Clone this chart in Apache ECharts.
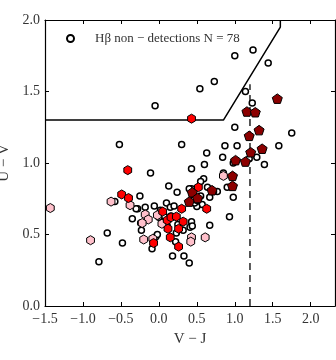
<!DOCTYPE html>
<html>
<head>
<meta charset="utf-8">
<script src="https://cdn.jsdelivr.net/npm/echarts@6/dist/echarts.min.js"></script>
<style>
html,body{margin:0;padding:0;background:#fff;}
#c{width:336px;height:360px;}
</style>
</head>
<body>
<div id="c"></div>
<script>
// ---- data ----
const xTicks = [-1.5, -1.0, -0.5, 0.0, 0.5, 1.0, 1.5, 2.0];
const yTicks = [0.0, 0.5, 1.0, 1.5, 2.0];
const legendLabel = "Hβ non − detections N = 78";

// H-beta non-detections (open circles): [V-J, U-V]
const nonDetections = [
  [1.00,1.75],[1.24,1.79],[1.44,1.70],[0.73,1.57],[0.54,1.52],[-0.05,1.40],
  [1.14,1.50],[1.23,1.42],[1.00,1.25],[1.75,1.21],[-0.52,1.13],[0.30,1.13],
  [0.87,1.12],[1.03,1.12],[1.58,1.12],[0.84,1.04],[1.29,1.04],[1.19,1.03],
  [1.39,0.99],[0.63,1.07],[0.60,0.99],[0.43,0.96],[-0.11,0.93],[0.85,0.93],
  [0.98,1.00],[0.59,0.89],[0.55,0.87],[0.64,0.83],[0.77,0.80],[0.90,0.83],
  [0.98,0.76],[0.93,0.625],[0.67,0.76],[0.67,0.565],[0.43,0.59],[0.41,0.55],
  [0.57,0.71],[0.50,0.695],[0.33,0.35],[0.40,0.30],[0.43,0.82],[0.24,0.795],
  [0.13,0.84],[-0.25,0.77],[-0.58,0.73],[-0.28,0.68],[-0.18,0.69],[-0.06,0.70],
  [-0.35,0.61],[-0.23,0.53],[-0.09,0.40],[-0.04,0.485],[-0.48,0.44],[0.18,0.35],
  [-0.68,0.51],[-0.79,0.31],[0.47,0.72],[0.45,0.78],[0.10,0.72],[0.15,0.69],
  [0.20,0.70],[0.02,0.67],[0.07,0.63],[0.16,0.63],[0.25,0.57],[0.22,0.45],
  [0.23,0.51],[-0.30,0.68],[-0.24,0.58],[0.00,0.62],[0.50,0.74],[0.44,0.56],
  [-0.02,0.50],[0.32,0.53],[0.11,0.56],[0.40,0.82],[0.55,0.77],[0.72,0.80]
];
// red hexagons
const redPoints = [
  [0.43,1.31],[-0.41,0.95],[-0.49,0.78],[-0.40,0.755],[0.52,0.83],[0.63,0.68],
  [0.30,0.68],[0.05,0.66],[0.11,0.60],[0.16,0.62],[0.23,0.625],[0.32,0.59],
  [0.12,0.54],[0.26,0.54],[0.15,0.48],[0.26,0.415],[-0.07,0.44]
];
// dark red pentagons
const darkRedPoints = [
  [1.56,1.45],[1.16,1.36],[1.27,1.355],[1.32,1.23],[1.19,1.19],[1.36,1.10],
  [1.21,1.075],[1.01,1.02],[1.14,1.01],[0.97,0.91],[0.97,0.84],[0.70,0.81],
  [0.44,0.795],[0.40,0.73],[0.51,0.755]
];
// pink hexagons
const pinkPoints = [
  [-1.43,0.685],[-0.90,0.46],[-0.63,0.73],[-0.38,0.705],[-0.18,0.64],[-0.14,0.605],
  [-0.22,0.58],[-0.20,0.465],[-0.08,0.47],[-0.02,0.635],[0.04,0.575],[0.43,0.48],
  [0.42,0.45],[0.61,0.48],[0.85,0.91]
];
// UVJ quiescent boundary
const boundaryX = [-1.5, 0.85, 1.6, 1.6];
const boundaryY = [1.3, 1.3, 1.95, 2.0];
// dashed V-J = 1.2 line
const dashX = [1.2, 1.2];
const dashY = [0.0, 1.55];

// ---- chart ----
const hexPath = 'path://M0,-1 L0.866,-0.5 L0.866,0.5 L0,1 L-0.866,0.5 L-0.866,-0.5 Z';
const pentPath = 'path://M0,-1 L0.951,-0.309 L0.588,0.809 L-0.588,0.809 L-0.951,-0.309 Z';
const FONT = 'Liberation Serif';
const fmt = v => (v < 0 ? '\u2212' : '') + Math.abs(v).toFixed(1);
const zip = (a, b) => a.map((v, i) => [v, b[i]]);

const chart = echarts.init(document.getElementById('c'), null, {renderer: 'canvas'});
const axisCommon = {
  axisLine: {show: true, onZero: false, lineStyle: {color: '#000', width: 1.2}},
  axisTick: {show: true, inside: true, length: 4, lineStyle: {color: '#000', width: 1}},
  splitLine: {show: false},
};
chart.setOption({
  animation: false,
  backgroundColor: '#fff',
  grid: {left: 45, right: 1, top: 20, bottom: 54, containLabel: false, outerBoundsMode: 'none'},
  legend: {
    data: [legendLabel],
    left: 61, top: 27,
    itemWidth: 7, itemHeight: 7,
    textStyle: {fontFamily: FONT, fontSize: 13, color: '#333', padding: [0, 0, 0, 16]}
  },
  xAxis: [
    Object.assign({
      type: 'value', min: -1.5, max: 2.32, interval: 0.5, position: 'bottom',
      name: 'V − J', nameLocation: 'middle', nameGap: 26,
      nameTextStyle: {fontFamily: FONT, fontSize: 15, color: '#333'},
      axisLabel: {fontFamily: FONT, fontSize: 14, color: '#333', margin: 6,
        formatter: v => xTicks.some(t => Math.abs(t - v) < 1e-6) ? fmt(v) : '',
        showMaxLabel: false}
    }, axisCommon),
    Object.assign({
      type: 'value', min: -1.5, max: 2.32, interval: 0.5, position: 'top',
      axisLabel: {show: false}
    }, axisCommon)
  ],
  yAxis: [
    Object.assign({
      type: 'value', min: 0, max: 2.0, interval: 0.5, position: 'left',
      name: 'U − V', nameLocation: 'middle', nameGap: 25, nameRotate: 90,
      nameTextStyle: {fontFamily: FONT, fontSize: 15, color: '#333'},
      axisLabel: {fontFamily: FONT, fontSize: 14, color: '#333', margin: 5,
        formatter: v => yTicks.some(t => Math.abs(t - v) < 1e-6) ? fmt(v) : ''}
    }, axisCommon),
    Object.assign({
      type: 'value', min: 0, max: 2.0, interval: 0.5, position: 'right',
      axisLabel: {show: false}
    }, axisCommon)
  ],
  series: [
    {
      type: 'line', data: zip(boundaryX, boundaryY), symbol: 'none',
      lineStyle: {color: '#000', width: 1.5}, silent: true, z: 1
    },
    {
      type: 'line', data: zip(dashX, dashY), symbol: 'none',
      lineStyle: {color: '#222', width: 1.5, type: [7, 5]}, silent: true, z: 1
    },
    {
      name: legendLabel, type: 'scatter', data: nonDetections,
      symbol: 'circle', symbolSize: 6,
      itemStyle: {color: '#fff', borderColor: '#000', borderWidth: 1.5, opacity: 1}, z: 2
    },
    {
      type: 'scatter', data: pinkPoints, symbol: hexPath, symbolKeepAspect: true, symbolSize: 9,
      itemStyle: {color: '#ffc0cb', borderColor: '#000', borderWidth: 1, opacity: 1}, z: 3
    },
    {
      type: 'scatter', data: redPoints, symbol: hexPath, symbolKeepAspect: true, symbolSize: 9,
      itemStyle: {color: '#ff0000', borderColor: '#000', borderWidth: 1, opacity: 1}, z: 4
    },
    {
      type: 'scatter', data: darkRedPoints, symbol: pentPath, symbolKeepAspect: true, symbolSize: 10,
      itemStyle: {color: '#8b0000', borderColor: '#000', borderWidth: 1, opacity: 1}, z: 5
    }
  ]
});
</script>
</body>
</html>
